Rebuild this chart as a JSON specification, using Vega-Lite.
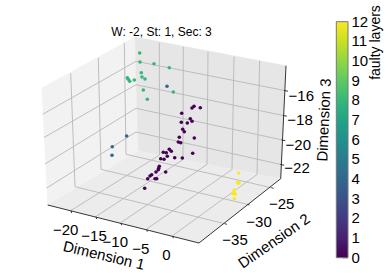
{
"$schema":"https://vega.github.io/schema/vega-lite/v6.json",
"width":388,"height":273,"padding":0,"autosize":{"type":"none"},
"background":"white",
"config":{"view":{"stroke":null}},
"encoding":{
 "x":{"field":"u","type":"quantitative","scale":{"domain":[0,388]},"axis":null},
 "y":{"field":"v","type":"quantitative","scale":{"domain":[273,0]},"axis":null}
},
"layer":[
{"data":{"values":[{"i":0,"u":41.7,"v":88},{"i":1,"u":135,"v":37},{"i":2,"u":138.3,"v":151},{"i":3,"u":47.7,"v":205},{"i":4,"u":41.7,"v":88}]},
 "mark":{"type":"line","fill":"#f2f2f2","stroke":"#f2f2f2","strokeWidth":0.5},"encoding":{"order":{"field":"i"}}},
{"data":{"values":[{"i":0,"u":135,"v":37},{"i":1,"u":286,"v":65.7},{"i":2,"u":280.7,"v":178.7},{"i":3,"u":138.3,"v":151},{"i":4,"u":135,"v":37}]},
 "mark":{"type":"line","fill":"#e6e6e6","stroke":"#e6e6e6","strokeWidth":0.5},"encoding":{"order":{"field":"i"}}},
{"data":{"values":[{"i":0,"u":47.7,"v":205},{"i":1,"u":138.3,"v":151},{"i":2,"u":280.7,"v":178.7},{"i":3,"u":199,"v":243},{"i":4,"u":47.7,"v":205}]},
 "mark":{"type":"line","fill":"#ececec","stroke":"#ececec","strokeWidth":0.5},"encoding":{"order":{"field":"i"}}},
{"data":{"values":[
 {"u":42.7,"v":114.3,"u2":136,"v2":61.3},{"u":44,"v":137.5,"u2":136,"v2":84.7},{"u":45,"v":164,"u2":136,"v2":108.3},{"u":46.7,"v":188,"u2":136,"v2":132},
 {"u":136,"v":61.3,"u2":285.7,"v2":90.7},{"u":136,"v":84.7,"u2":284,"v2":115.7},{"u":136,"v":108.3,"u2":282.5,"v2":140},{"u":136,"v":132,"u2":281,"v2":164.5},
 {"u":159.3,"v":42.7,"u2":159.5,"v2":155},{"u":183.3,"v":46.7,"u2":183,"v2":159.5},{"u":208,"v":51.7,"u2":207,"v2":164.5},{"u":234,"v":56.7,"u2":232,"v2":169.5},{"u":259.7,"v":60.7,"u2":257,"v2":174.5},
 {"u":71,"v":210.5,"u2":159.5,"v2":155},{"u":96,"v":216.5,"u2":183,"v2":159.5},{"u":121,"v":222.5,"u2":207,"v2":164.5},{"u":146.7,"v":229,"u2":232,"v2":169.5},{"u":172.7,"v":235.5,"u2":257,"v2":174.5},
 {"u":75,"v":186.7,"u2":224.7,"v2":223.7},{"u":101,"v":169.3,"u2":247.3,"v2":204.3},{"u":126,"v":154.3,"u2":271.3,"v2":187.7},
 {"u":70.7,"v":73.3,"u2":75,"v2":186.7},{"u":98.3,"v":57.7,"u2":101,"v2":169.3},{"u":124.3,"v":42.7,"u2":126,"v2":154.3}
 ]},
 "mark":{"type":"rule","color":"#b8b8b8","strokeWidth":0.9},
 "encoding":{"x2":{"field":"u2"},"y2":{"field":"v2"}}},
{"data":{"values":[
 {"u":47.7,"v":205,"u2":199,"v2":243},{"u":199,"v":243,"u2":280.7,"v2":178.7},{"u":280.7,"v":178.7,"u2":286,"v2":65.7},
 {"u":71,"v":210.8,"u2":71.6,"v2":213},{"u":96,"v":216.8,"u2":96.6,"v2":219},{"u":121,"v":223,"u2":121.6,"v2":225.2},{"u":146.7,"v":229.5,"u2":147.3,"v2":231.7},{"u":172.7,"v":236,"u2":173.3,"v2":238.2},
 {"u":271.3,"v":187.7,"u2":273.5,"v2":188.3},{"u":247.3,"v":204.3,"u2":249.5,"v2":204.9},{"u":224.7,"v":223.7,"u2":226.9,"v2":224.3},
 {"u":284.2,"v":90.5,"u2":288,"v2":91.2},{"u":283,"v":115.5,"u2":286.8,"v2":116.2},{"u":281.5,"v":140,"u2":285.3,"v2":140.7},{"u":280.3,"v":164.5,"u2":284.1,"v2":165.2}
 ]},
 "mark":{"type":"rule","color":"#222222","strokeWidth":0.9},
 "encoding":{"x2":{"field":"u2"},"y2":{"field":"v2"}}},
{"data":{"values":[
 {"u":139.7,"v":53,"layers":8},{"u":140,"v":62,"layers":8},{"u":154,"v":63.7,"layers":8},{"u":169.3,"v":67.7,"layers":8},{"u":141.3,"v":72.7,"layers":8},{"u":142,"v":77,"layers":8},{"u":145,"v":79,"layers":8},{"u":134.3,"v":80,"layers":8},{"u":127.3,"v":77.7,"layers":8},{"u":128.3,"v":79.3,"layers":8},{"u":129.7,"v":81.3,"layers":8},{"u":143.3,"v":90,"layers":8},{"u":173.3,"v":92,"layers":8},{"u":147.3,"v":99.3,"layers":8},
 {"u":167,"v":86.3,"layers":4},{"u":126.7,"v":136,"layers":4},{"u":112.3,"v":146.7,"layers":4},{"u":112,"v":155.3,"layers":4},
 {"u":192,"v":108,"layers":0},{"u":194,"v":106.3,"layers":0},{"u":200.3,"v":107.7,"layers":0},{"u":181.7,"v":113.3,"layers":0},{"u":190.3,"v":118.7,"layers":0},{"u":192,"v":121.3,"layers":0},{"u":187.3,"v":123,"layers":0},{"u":181.3,"v":122.3,"layers":0},{"u":182.7,"v":129.3,"layers":0},{"u":184.3,"v":131.7,"layers":0},{"u":194.3,"v":138,"layers":0},{"u":179.3,"v":137.3,"layers":0},{"u":178.3,"v":142,"layers":0},{"u":180.7,"v":142.7,"layers":0},{"u":169.3,"v":149.3,"layers":0},{"u":171.3,"v":151.3,"layers":0},{"u":163.3,"v":152.3,"layers":0},{"u":166.3,"v":152.7,"layers":0},{"u":192.7,"v":153.3,"layers":0},{"u":167.3,"v":156.3,"layers":0},{"u":174.7,"v":157.7,"layers":0},{"u":160.7,"v":158.7,"layers":0},{"u":164,"v":159.3,"layers":0},{"u":182.3,"v":158,"layers":0},{"u":159.3,"v":166.3,"layers":0},{"u":158.7,"v":168.3,"layers":0},{"u":158.3,"v":169.7,"layers":0},{"u":156,"v":172,"layers":0},{"u":165.7,"v":172,"layers":0},{"u":151.7,"v":174.7,"layers":0},{"u":150,"v":176,"layers":0},{"u":147.7,"v":178.7,"layers":0},{"u":155,"v":178.7,"layers":0},{"u":156.7,"v":178.7,"layers":0},{"u":144.7,"v":188.3,"layers":0},
 {"u":238.7,"v":173,"layers":12},{"u":237.7,"v":182.3,"layers":12},{"u":239,"v":182.7,"layers":12},{"u":238.3,"v":183.3,"layers":12},{"u":234.3,"v":190,"layers":12},{"u":233.7,"v":192.3,"layers":12},{"u":235.3,"v":194,"layers":12},{"u":233,"v":193.7,"layers":12},{"u":234.3,"v":198.7,"layers":12}
 ]},
 "mark":{"type":"circle","size":13,"opacity":1},
 "encoding":{"color":{"field":"layers","type":"quantitative","scale":{"scheme":"viridis","domain":[0,12]},
  "legend":{"orient":"none","legendX":336.3,"legendY":21.7,"direction":"vertical","title":null,"gradientLength":236,"gradientThickness":11.7,"gradientStrokeColor":"#777777","gradientStrokeWidth":1,"labelExpr":"''","labelOpacity":0,"labelFontSize":1,"values":[0,12],"padding":0}}}},
{"data":{"values":[
 {"u":342.5,"v":257.7,"u2":348,"v2":257.7},{"u":342.5,"v":238,"u2":348,"v2":238},{"u":342.5,"v":218.4,"u2":348,"v2":218.4},{"u":342.5,"v":198.7,"u2":348,"v2":198.7},{"u":342.5,"v":179,"u2":348,"v2":179},{"u":342.5,"v":159.4,"u2":348,"v2":159.4},{"u":342.5,"v":139.7,"u2":348,"v2":139.7},{"u":342.5,"v":120,"u2":348,"v2":120},{"u":342.5,"v":100.4,"u2":348,"v2":100.4},{"u":342.5,"v":80.7,"u2":348,"v2":80.7},{"u":342.5,"v":61,"u2":348,"v2":61},{"u":342.5,"v":41.4,"u2":348,"v2":41.4}
 ]},
 "mark":{"type":"rule","color":"#222222","strokeWidth":1},
 "encoding":{"x2":{"field":"u2"},"y2":{"field":"v2"}}},
{"data":{"values":[
 {"u":351.5,"v":257.7,"t":"0"},{"u":351.5,"v":238,"t":"1"},{"u":351.5,"v":218.4,"t":"2"},{"u":351.5,"v":198.7,"t":"3"},{"u":351.5,"v":179,"t":"4"},{"u":351.5,"v":159.4,"t":"5"},{"u":351.5,"v":139.7,"t":"6"},{"u":351.5,"v":120,"t":"7"},{"u":351.5,"v":100.4,"t":"8"},{"u":351.5,"v":80.7,"t":"9"},{"u":351.5,"v":61,"t":"10"},{"u":351.5,"v":41.4,"t":"11"},{"u":351.5,"v":21.7,"t":"12"}
 ]},
 "mark":{"type":"text","font":"Liberation Sans","fontSize":15,"align":"left","baseline":"middle","color":"#000000"},
 "encoding":{"text":{"field":"t"}}},
{"data":{"values":[
 {"u":65.7,"v":230.3,"t":"−20"},{"u":94,"v":236,"t":"−15"},{"u":115.3,"v":242,"t":"−10"},{"u":140.7,"v":248.7,"t":"−5"},{"u":166.3,"v":255,"t":"0"},
 {"u":281.7,"v":203.7,"t":"−25"},{"u":259,"v":222,"t":"−30"},{"u":235,"v":240.3,"t":"−35"},
 {"u":301.3,"v":96,"t":"−16"},{"u":300,"v":120.3,"t":"−18"},{"u":298.3,"v":145,"t":"−20"},{"u":297,"v":168.3,"t":"−22"}
 ]},
 "mark":{"type":"text","font":"Liberation Sans","fontSize":15,"align":"center","baseline":"middle","color":"#000000"},
 "encoding":{"text":{"field":"t"}}},
{"data":{"values":[{"u":161.5,"v":31.7,"t":"W: -2, St: 1, Sec: 3"}]},
 "mark":{"type":"text","font":"Liberation Sans","fontSize":12,"align":"center","baseline":"middle","color":"#000000"},
 "encoding":{"text":{"field":"t"}}},
{"data":{"values":[{"u":104,"v":255.5,"t":"Dimension 1"}]},
 "mark":{"type":"text","font":"Liberation Sans","fontSize":15,"align":"center","baseline":"middle","angle":13.4,"color":"#000000"},
 "encoding":{"text":{"field":"t"}}},
{"data":{"values":[{"u":274,"v":241,"t":"Dimension 2"}]},
 "mark":{"type":"text","font":"Liberation Sans","fontSize":15,"align":"center","baseline":"middle","angle":325,"color":"#000000"},
 "encoding":{"text":{"field":"t"}}},
{"data":{"values":[{"u":324,"v":120,"t":"Dimension 3"}]},
 "mark":{"type":"text","font":"Liberation Sans","fontSize":15,"align":"center","baseline":"middle","angle":272.5,"color":"#000000"},
 "encoding":{"text":{"field":"t"}}},
{"data":{"values":[{"u":375.7,"v":42.5,"t":"faulty layers"}]},
 "mark":{"type":"text","font":"Liberation Sans","fontSize":14,"align":"center","baseline":"middle","angle":270,"color":"#000000"},
 "encoding":{"text":{"field":"t"}}}
]
}
